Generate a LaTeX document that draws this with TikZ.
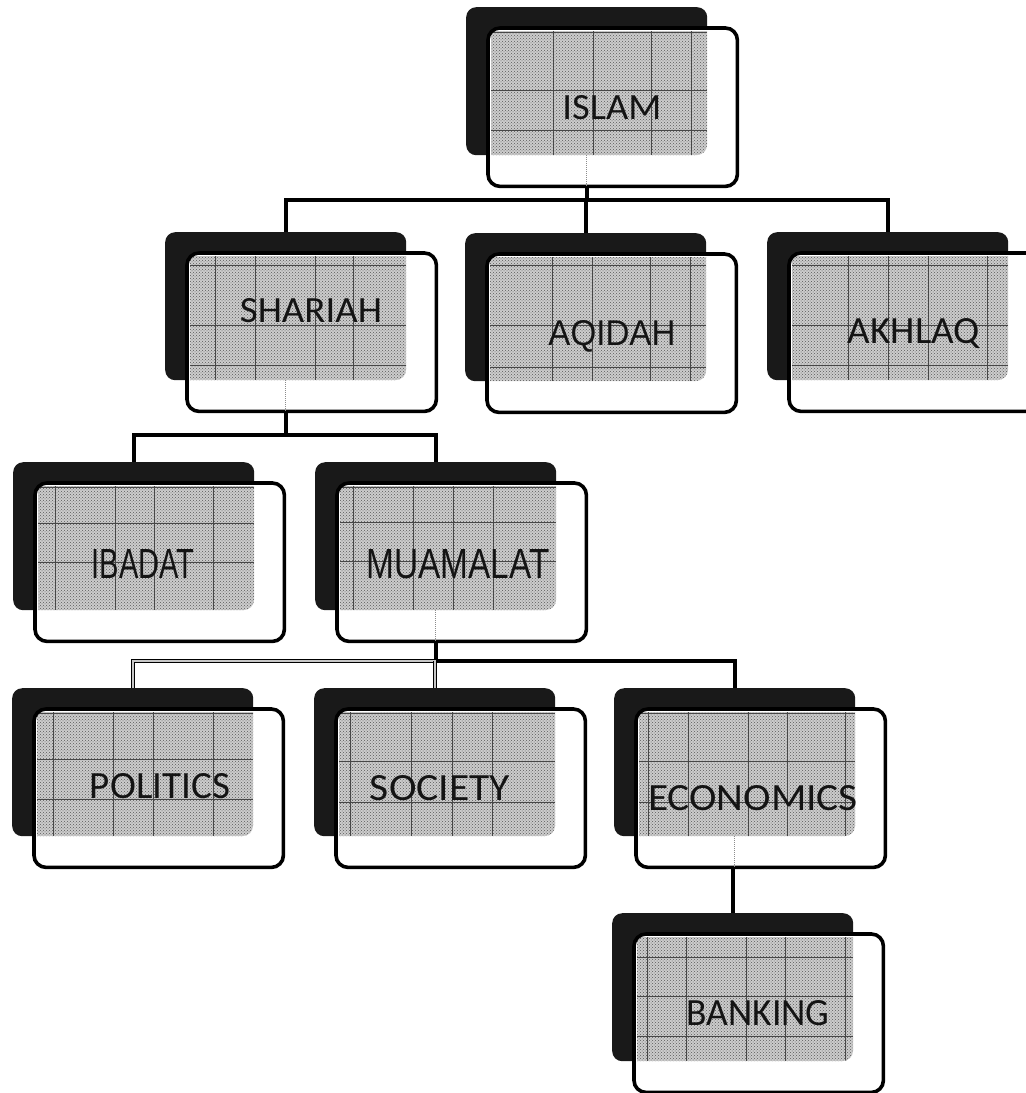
\documentclass[tikz,border=0pt]{standalone}
\usepackage{fontspec}
\newfontfamily\calib{Carlito}
\newfontfamily\arialf{Liberation Sans}
\usetikzlibrary{patterns}

\tikzset{
  shadowbox/.style={rectangle, rounded corners=10pt, minimum width=241pt,
    minimum height=148pt, inner sep=0pt, anchor=north west, fill=black!90},
  frontbox/.style={rectangle, rounded corners=12pt, minimum width=249pt,
    minimum height=158pt, inner sep=0pt, anchor=north west, fill=white},
  boxline/.style={draw=black, line width=3.6pt, rounded corners=12pt},
  overlap/.style={fill=black!20, postaction={pattern=crosshatch dots, pattern color=black!65}},
  rule/.style={draw=black!72, line width=0.9pt},
  conn/.style={draw=black, line width=4.2pt},
  hollow/.style={draw=black, line width=1.3pt, double=black!22, double distance=1.6pt},
  seam/.style={draw=black!45, line width=1pt, densely dotted},
  lbl/.style={anchor=base, inner sep=0pt, text=black!92},
}

% #1 name, #2/#3 top-left of the dark card, #4 vertical rules, #5 horizontal rules
\newcommand\orgbox[5]{%
  \begin{scope}[shift={(#2,#3)}]
    \node[shadowbox] (#1S) at (0,0) {};
    \node[frontbox] (#1) at (22,21) {};
    \begin{scope}
      \clip[rounded corners=10pt] (0,0) rectangle (241,148);
      \fill[overlap] (25,24) rectangle (271,179);
      \foreach \u in {#4} \draw[rule] (\u,24) -- (\u,148);
      \foreach \v in {#5} \draw[rule] (25,\v) -- (241,\v);
    \end{scope}
    \draw[boxline] (#1.north west) rectangle (#1.south east);
  \end{scope}}

\begin{document}
\begin{tikzpicture}[x=1pt,y=-1pt]
  \useasboundingbox (0,0) rectangle (1026,1093);
  \clip (0,0) rectangle (1026,1093);

  % cards
  \orgbox{islam}{466}{7}{87,127,185,225}{25,83,123}
  \orgbox{shariah}{165}{232}{50,90,150,188}{33,93,133}
  \orgbox{aqidah}{465}{233}{87,127,185,225}{32,92,134}
  \orgbox{akhlaq}{767}{232}{81,121,161,220}{33,93,133}
  \orgbox{ibadat}{13}{462}{42,102,141,200}{25,61,100}
  \orgbox{muamalat}{315}{462}{38,98,138,178}{25,60,99}
  \orgbox{politics}{12}{688}{41,101,141,201}{25,71,111}
  \orgbox{society}{314}{688}{36,97,138,178}{25,73,114}
  \orgbox{economics}{614}{688}{34,74,134,173,231}{25,73,114}
  \orgbox{banking}{612}{913}{35,74,134,173,233}{44,83,123}

  % labels
  \node[lbl] (islamT)     at (612,119)  {\calib\resizebox{99pt}{24pt}{ISLAM}};
  \node[lbl] (shariahT)   at (311,322)  {\calib\resizebox{142pt}{24pt}{SHARIAH}};
  \node[lbl] (aqidahT)    at (612,345)  {\arialf\resizebox{127pt}{25pt}{AQIDAH}};
  \node[lbl] (akhlaqT)    at (914,343)  {\calib\resizebox{132pt}{25pt}{AKHLAQ}};
  \node[lbl] (ibadatT)    at (143,578)  {\arialf\resizebox{103pt}{29pt}{IBADAT}};
  \node[lbl] (muamalatT)  at (458,578)  {\arialf\resizebox{183pt}{29pt}{MUAMALAT}};
  \node[lbl] (politicsT)  at (160,798)  {\calib\resizebox{140pt}{25pt}{POLITICS}};
  \node[lbl] (societyT)   at (440,800)  {\calib\resizebox{140pt}{25pt}{SOCIETY}};
  \node[lbl] (economicsT) at (753,810)  {\calib\resizebox{210pt}{25pt}{ECONOMICS}};
  \node[lbl] (bankingT)   at (758,1025) {\calib\resizebox{143pt}{25pt}{BANKING}};

  % bus levels
  \coordinate (barA) at (0,200);
  \coordinate (barB) at (0,435);
  \coordinate (barC) at (0,661);

  % faint seams where the links pass behind the cards
  \foreach \n in {islam,shariah,muamalat,economics}
    \draw[seam] (\n S.south) -- (\n.south -| \n S.south);

  % ISLAM
  \draw[conn] (islam.south -| islamS.center) -- (islamS.center |- barA);
  \draw[conn] (shariahS.north) -- (shariahS.north |- barA) -- (akhlaqS.north |- barA) -- (akhlaqS.north);
  \draw[conn] (aqidahS.north) -- (aqidahS.north |- barA);

  % SHARIAH
  \draw[conn] (shariah.south -| shariahS.center) -- (shariahS.center |- barB);
  \draw[conn] (ibadatS.north) -- (ibadatS.north |- barB) -- (muamalatS.north |- barB) -- (muamalatS.north);

  % MUAMALAT
  \draw[conn] (muamalat.south -| muamalatS.center) -- (muamalatS.center |- barC);
  \draw[hollow] (politicsS.north) -- (politicsS.north |- barC) -- (muamalatS.center |- barC);
  \draw[hollow] (societyS.north) -- (societyS.north |- barC);
  \draw[conn] (muamalatS.center |- barC) -- (economicsS.north |- barC) -- (economicsS.north);

  % ECONOMICS
  \draw[conn] (economics.south -| bankingS.north) -- (bankingS.north);
\end{tikzpicture}
\end{document}
